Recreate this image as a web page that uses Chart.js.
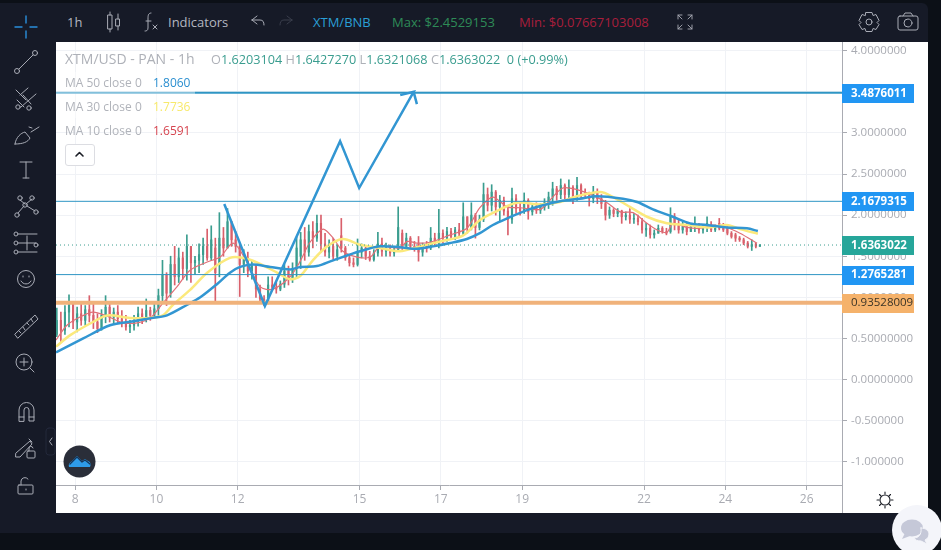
<!DOCTYPE html>
<html>
<head>
<meta charset="utf-8">
<title>XTM/USD</title>
<script src="https://cdn.jsdelivr.net/npm/chart.js@4"></script>
<style>
  html, body { margin: 0; padding: 0; width: 941px; height: 550px; overflow: hidden; background: #0c1017; font-family: "Open Sans", sans-serif; }
  #panel { position: absolute; left: 0; top: 3px; width: 928px; height: 530px; background: #161a27; border-radius: 0 6px 6px 0; }
  #wrap { position: absolute; left: 56px; top: 42px; width: 872px; height: 471px; background: #fff; }
  canvas { display: block; }
  .t { position: absolute; white-space: nowrap; line-height: 16px; }
  .bar { font-size: 13px; top: 14px; }
  #icons { position: absolute; left: 0; top: 0; z-index: 3; pointer-events: none; }
  .ma { color: #b0b3ba; font-size: 12px; z-index: 2; }
  #veil { position: absolute; left: 56px; top: 72px; width: 139px; height: 46px; background: rgba(255,255,255,.4); z-index: 1; }
  #collapse { position: absolute; left: 65px; top: 144px; width: 28px; height: 20px; border: 1px solid #dcdde2; border-radius: 3px; background: #fff; z-index: 2; }
</style>
</head>
<body>
<div id="panel"></div>
<div id="wrap"><canvas id="priceChart" width="872" height="471"></canvas></div>

<!-- thanh trên cùng -->
<div class="t bar" style="left:67px;color:#b4b7c0">1h</div>
<div class="t bar" style="left:168px;color:#b4b7c0">Indicators</div>
<div class="t bar" style="left:313px;color:#2a9fd6">XTM/BNB</div>
<div class="t bar" style="left:392px;color:#2e8b57">Max: $2.4529153</div>
<div class="t bar" style="left:519px;color:#a81e3c">Min: $0.07667103008</div>

<!-- chú thích trong biểu đồ -->
<div id="veil"></div>
<div class="t" style="left:65px;top:51px;font-size:14px;color:#aeb1b8;z-index:2">XTM/USD - PAN - 1h</div>
<div class="t" style="left:211px;top:51px;font-size:12.7px;color:#3a9d8f;z-index:2"><span style="color:#aeb1b8">O</span>1.6203104 <span style="color:#aeb1b8">H</span>1.6427270 <span style="color:#aeb1b8">L</span>1.6321068 <span style="color:#aeb1b8">C</span>1.6363022 &nbsp;0 (+0.99%)</div>
<div class="t ma" style="left:65px;top:75px">MA 50 close 0</div>
<div class="t ma" style="left:153px;top:75px;color:#2b8fd0">1.8060</div>
<div class="t ma" style="left:65px;top:99px">MA 30 close 0</div>
<div class="t ma" style="left:153px;top:99px;color:#f7e96b">1.7736</div>
<div class="t ma" style="left:65px;top:123px">MA 10 close 0</div>
<div class="t ma" style="left:153px;top:123px;color:#d6444f">1.6591</div>
<div id="collapse"></div>

<svg id="icons" width="941" height="550" fill="none" stroke="#a9acb6" stroke-width="1" stroke-linecap="round" stroke-linejoin="round">
  <!-- công cụ bên trái -->
  <path d="M26 16v7M26 31v7M15 27h7M30 27h7" stroke="#2a8fdc" stroke-width="1.4"/>
  <g><circle cx="35" cy="53" r="2.5"/><circle cx="17" cy="71" r="2.5"/><path d="M19 69l14-14"/></g>
  <g><path d="M16 90l10 10M21 107l15-13M28 88l-8 7"/><circle cx="18" cy="107" r="2.2"/><circle cx="29" cy="108" r="2.2"/><path d="M17 100l7 7M23 95l8 9"/></g>
  <g><path d="M15 144c1-7 6-11 10-12l5 6c-2 4-7 6-15 6zM31 132l8-5M32 128l-3-1"/></g>
  <g><path d="M20 162h12M26 162v16M23 178h6"/></g>
  <g><circle cx="20" cy="198" r="2.2"/><circle cx="32" cy="198" r="2.2"/><circle cx="25" cy="205" r="2.2"/><circle cx="17" cy="215" r="2.2"/><circle cx="36" cy="212" r="2.2"/><path d="M20 200l5 4M26 204l6-5M18 213l6-7M27 206l8 5M21 200v0"/></g>
  <g><path d="M19 234h18M19 243h17M19 252h18M27 236v14"/><circle cx="16" cy="234" r="2"/><circle cx="16" cy="243" r="2"/><circle cx="16" cy="252" r="2"/><circle cx="36" cy="245" r="2"/></g>
  <g><circle cx="26" cy="279" r="8.5"/><path d="M21 281c2 4 8 4 10 0M23 276v1M29 276v1"/></g>
  <g><path d="M15 334l20-19 3 4-20 19zM19 331l2 2M23 327l2 3M27 323l2 2M31 319l2 3"/></g>
  <g><circle cx="24" cy="362" r="8"/><path d="M20 362h8M24 358v8M30 368l4 4"/></g>
  <g><path d="M19 421v-11a7 7 0 0 1 15 0v11h-5v-11a2.5 2.5 0 0 0-5 0v11zM19 417h5M29 417h5"/></g>
  <g><path d="M16 453l14-12 2 3 -12 13h-4zM29 439l3 3"/><rect x="27" y="451" width="8" height="7" rx="1"/><path d="M29 451v-2a2 2 0 0 1 4-1"/></g>
  <g><rect x="18" y="485" width="15" height="9" rx="1"/><path d="M21 485v-4a4 4 0 0 1 7-2M26 489v1"/></g>
  <rect x="46" y="428" width="9" height="27" rx="3" stroke="#23283a"/>
  <path d="M52 438l-2.5 3.5 2.5 3.5"/>
  <!-- biểu tượng thanh trên -->
  <g><rect x="108" y="15" width="4" height="14"/><path d="M110 12v3M110 29v3"/><rect x="116" y="19" width="3.5" height="7"/><path d="M118 14v5M118 26v4"/></g>
  <g><path d="M151 13c-3 0-3 3-3 6v9c0 3-2 3-3 3M146 21h5M153 25l4 4M157 25l-4 4"/></g>
  <path d="M252 20l5-4M252 20l5 4M252 20h8c3 0 4 2 4 5"/>
  <path d="M292 20l-5-4M292 20l-5 4M292 20h-8c-3 0-4 2-4 5" stroke="#3a3e4c"/>
  <path d="M678 19v-4h4M682 19l-4-4M692 19v-4h-4M688 19l4-4M678 25v4h4M682 25l-4 4M692 25v4h-4M688 25l4 4" stroke-width=".9"/>
  <g><circle cx="869" cy="22" r="3"/><path d="M866 13h6l1 3 3-1 3 6-2 2 2 2-3 5-3-1-1 3h-6l-1-3-3 1-3-5 2-2-2-2 3-6 3 1z" transform="translate(0 -0.5)"/></g>
  <g><rect x="898" y="16" width="20" height="14" rx="2"/><circle cx="908" cy="23" r="4"/><path d="M903 16l2-3h6l2 3"/></g>
  <!-- logo -->
  <circle cx="79.5" cy="461.5" r="16" fill="#2a2e39" stroke="none"/>
  <path d="M69 467c-1-4 2-5 3-6l5-5 5 5 3-2 3 2c3 1 3 4 2 6z" fill="#2e9be8" stroke="none"/>
  <path d="M70 464l7-7 5 5 3-2 5 4" stroke="#15365a" stroke-width="1.3"/>
  <!-- mũi tên thu gọn -->
  <path d="M76 156l3.5-3.5 3.5 3.5" stroke="#1b1e26" stroke-width="1.6"/>
  <!-- nút đổi giao diện sáng tối -->
  <g stroke="#1b1e26" stroke-width="1.1"><circle cx="885" cy="500" r="5"/><path d="M885 492v2M885 506v2M877 500h2M891 500h2M879.500 494.500l1.500 1.500M889 504l1.500 1.500M879.500 505.500l1.500-1.500M889 496l1.500-1.500"/></g>
  <!-- bong bóng trò chuyện -->
  <circle cx="917" cy="530" r="25" fill="#f4f5fa" stroke="none"/>
  <ellipse cx="912" cy="528" rx="11" ry="8.500" fill="#c5c8d8" stroke="none"/>
  <path d="M905 533l-3 6 8-3z" fill="#c5c8d8" stroke="none"/>
  <path d="M921 528c5 0 8 3 8 6s-2 5-4 6l2 4-6-3c-4 0-6-1-7-3 4 0 8-3 7-10z" fill="#c5c8d8" stroke="#f4f5fa"/>
</svg>

<script>
// Nến 1h, mỗi nến cách nhau một khoảng cố định trên trục ngày
const firstCandleDay = 7.55;
const candleStep = 0.1;

const opens = [
    .55,.72,.60,.82,.95,.70,.80,.72,.85,.78,
    .70,.62,.78,.88,.76,.82,.74,.70,.64,.66,
    .72,.80,.74,.84,.78,.86,1.02,1.28,1.05,1.40,
    1.25,1.48,1.35,1.62,1.42,1.45,1.52,1.62,1.48,1.60,
    1.40,1.72,1.60,1.92,1.70,1.62,1.40,1.48,1.32,1.38,
    1.10,.98,.94,1.15,1.12,1.10,1.16,1.32,1.22,1.35,
    1.50,1.70,1.55,1.80,1.72,1.90,1.65,1.55,1.62,1.50,
    1.75,1.60,1.48,1.42,1.40,1.55,1.60,1.50,1.46,1.54,
    1.65,1.56,1.60,1.54,1.58,1.78,1.62,1.72,1.62,1.65,
    1.55,1.62,1.60,1.72,1.66,1.78,1.72,1.80,1.74,1.82,
    1.78,1.98,1.85,2.00,1.85,1.95,2.25,2.12,2.28,2.10,
    2.18,2.05,1.95,2.20,2.08,2.05,2.18,2.04,2.10,2.06,
    2.10,2.15,2.22,2.32,2.25,2.36,2.25,2.34,2.22,2.36,
    2.26,2.24,2.20,2.28,2.20,2.14,2.00,2.06,2.02,2.05,
    1.98,2.00,1.95,1.96,1.92,1.82,1.84,1.76,1.78,1.84,
    1.80,1.80,1.98,1.88,1.82,1.86,1.80,1.86,1.88,1.82,
    1.85,1.88,1.82,1.90,1.84,1.84,1.78,1.76,1.72,1.70,
    1.66,1.62,1.65,1.6203
];
const highs = [
    .87,.82,.90,1.03,.95,.88,.92,.90,1.02,.92,
    .80,.85,1.02,.93,.87,.90,.84,.78,.72,.78,
    .88,.86,.98,.88,.92,1.10,1.45,1.30,1.50,1.62,
    1.60,1.55,1.76,1.60,1.50,1.65,1.72,1.83,1.87,1.72,
    2.03,1.85,2.08,1.92,1.80,1.65,1.58,1.55,1.45,1.40,
    1.15,1.02,1.25,1.25,1.18,1.20,1.40,1.38,1.42,1.73,
    1.79,1.85,1.88,1.92,2.00,2.00,1.78,1.70,1.72,1.64,
    1.96,1.62,1.52,1.48,1.71,1.65,1.62,1.56,1.58,1.79,
    1.72,1.66,1.64,1.62,2.10,1.82,1.78,1.74,1.68,1.74,
    1.66,1.68,1.85,1.78,2.07,1.82,1.85,1.84,1.85,1.90,
    2.15,1.98,2.15,2.02,2.00,2.39,2.33,2.37,2.30,2.24,
    2.22,2.12,2.33,2.25,2.15,2.27,2.20,2.12,2.15,2.14,
    2.20,2.28,2.40,2.35,2.44,2.38,2.43,2.36,2.46,2.38,
    2.32,2.28,2.35,2.32,2.25,2.18,2.10,2.08,2.08,2.06,
    2.04,2.08,2.02,2.00,1.96,1.90,1.88,1.82,1.88,1.86,
    1.84,2.09,2.02,1.94,1.92,1.90,1.90,1.98,1.90,1.88,
    1.98,1.92,1.88,1.96,1.90,1.86,1.80,1.78,1.74,1.72,
    1.68,1.70,1.66,1.6427
];
const lows = [
    .52,.45,.55,.64,.62,.58,.66,.66,.70,.62,
    .57,.60,.69,.70,.68,.68,.64,.60,.57,.60,
    .65,.68,.70,.72,.74,.78,.95,.90,1.00,1.15,
    1.18,1.22,1.21,1.18,1.28,1.30,1.40,1.45,1.45,.95,
    1.25,1.50,1.60,1.62,1.55,1.01,1.30,1.25,1.22,1.00,
    .93,.90,.92,1.08,1.05,1.08,1.12,1.15,1.18,1.25,
    1.35,1.45,1.50,1.60,1.68,1.55,1.50,1.48,1.46,1.45,
    1.55,1.45,1.38,1.37,1.38,1.48,1.46,1.44,1.44,1.50,
    1.50,1.50,1.50,1.50,1.56,1.58,1.60,1.58,1.56,1.44,
    1.50,1.55,1.58,1.62,1.60,1.66,1.68,1.70,1.70,1.74,
    1.76,1.78,1.82,1.72,1.82,1.92,2.05,2.05,2.00,1.92,
    2.00,1.76,1.90,2.02,2.00,2.02,1.95,2.00,2.02,2.02,
    2.06,2.08,2.12,2.18,2.20,2.20,2.20,2.14,2.18,2.20,
    2.20,2.11,2.15,2.14,2.08,1.94,1.96,1.98,1.98,1.90,
    1.94,1.90,1.90,1.88,1.78,1.74,1.72,1.72,1.78,1.78,
    1.76,1.78,1.82,1.78,1.78,1.76,1.80,1.80,1.78,1.78,
    1.80,1.80,1.80,1.82,1.80,1.76,1.72,1.68,1.68,1.64,
    1.60,1.57,1.60,1.6203
];
const closes = [
    .72,.60,.82,.95,.70,.80,.72,.85,.78,.70,
    .62,.78,.88,.76,.82,.74,.70,.64,.66,.72,
    .80,.74,.84,.78,.86,1.02,1.28,1.05,1.40,1.25,
    1.48,1.35,1.62,1.42,1.45,1.52,1.62,1.48,1.70,1.30,
    1.72,1.60,1.92,1.70,1.62,1.40,1.48,1.32,1.38,1.10,
    .98,.94,1.15,1.12,1.10,1.16,1.32,1.22,1.35,1.60,
    1.70,1.55,1.80,1.72,1.90,1.65,1.55,1.62,1.50,1.58,
    1.60,1.48,1.42,1.40,1.55,1.60,1.50,1.46,1.54,1.65,
    1.56,1.60,1.54,1.58,1.85,1.62,1.72,1.62,1.60,1.55,
    1.62,1.60,1.72,1.66,1.78,1.72,1.80,1.74,1.82,1.78,
    1.98,1.85,2.00,1.85,1.95,2.25,2.12,2.28,2.10,2.18,
    2.05,1.95,2.20,2.08,2.05,2.18,2.04,2.10,2.06,2.10,
    2.15,2.22,2.32,2.25,2.36,2.25,2.34,2.22,2.36,2.26,
    2.24,2.20,2.28,2.20,2.14,2.00,2.06,2.02,2.05,1.98,
    2.00,1.95,1.96,1.92,1.82,1.84,1.76,1.78,1.84,1.80,
    1.78,1.98,1.88,1.82,1.86,1.80,1.86,1.88,1.82,1.85,
    1.90,1.82,1.86,1.84,1.82,1.78,1.74,1.72,1.70,1.66,
    1.62,1.64,1.62,1.6363
];

// Đường MA 50
const ma50Days = [7.53,8.20,8.86,9.43,9.92,10.26,10.76,11.08,11.49,11.81,12.06,12.38,12.80,13.29,13.54,13.95,14.35,15.01,15.50,15.99,16.41,16.81,17.23,17.64,17.96,18.28,18.63,19.12,19.51,19.93,20.42,20.84,21.48,21.83,22.22,22.71,23.13,23.55,24.04,24.53,24.80];
const ma50Values = [.33,.50,.66,.71,.75,.78,.91,1.00,1.16,1.30,1.37,1.40,1.37,1.34,1.37,1.38,1.45,1.56,1.62,1.61,1.59,1.62,1.66,1.71,1.78,1.88,1.96,2.06,2.12,2.17,2.20,2.23,2.20,2.16,2.07,1.98,1.90,1.88,1.85,1.84,1.806];

// Đường MA 30
const ma30Days = [7.53,7.88,8.44,8.79,9.35,9.85,10.16,10.41,10.83,11.25,11.81,12.23,12.62,12.97,13.29,13.54,13.85,14.20,14.59,15.01,15.50,15.99,16.49,16.98,17.54,17.96,18.38,18.87,19.44,19.93,20.35,20.92,21.24,21.65,22.07,22.56,23.06,23.55,24.04,24.36,24.80];
const ma30Values = [.40,.54,.70,.78,.75,.75,.78,.91,1.09,1.30,1.48,1.47,1.39,1.30,1.22,1.26,1.45,1.62,1.71,1.64,1.60,1.56,1.62,1.68,1.75,1.94,2.05,2.15,2.13,2.16,2.23,2.28,2.22,2.10,1.98,1.90,1.88,1.85,1.88,1.83,1.7736];

// Đường MA 10
const ma10Days = [7.53,7.80,8.12,8.44,8.79,9.18,9.53,9.85,10.16,10.51,10.83,11.25,11.57,11.89,12.23,12.55,12.87,13.29,13.54,13.78,14.10,14.35,14.59,14.94,15.26,15.50,15.99,16.17,16.41,16.73,17.23,17.64,17.96,18.28,18.63,18.95,19.44,19.68,20.00,20.35,20.74,21.09,21.41,21.73,22.07,22.32,22.56,22.71,23.06,23.38,23.69,24.04,24.36,24.78];
const ma10Values = [.48,.66,.76,.82,.77,.69,.69,.75,.93,1.13,1.33,1.43,1.49,1.66,1.43,1.13,1.10,1.25,1.44,1.67,1.83,1.72,1.56,1.49,1.49,1.62,1.60,1.68,1.66,1.67,1.76,1.84,2.09,2.22,2.10,2.09,2.07,2.18,2.33,2.31,2.24,2.15,2.04,2.03,1.90,1.82,1.79,1.90,1.85,1.84,1.88,1.85,1.78,1.6591];

// Đường vẽ tay zigzag và mũi tên ở cuối
const drawingDays = [11.67,12.67,14.52,14.99,16.33,16.00,16.33,16.41];
const drawingValues = [2.135,.894,2.90,2.33,3.50,3.46,3.50,3.35];

// Các mức giá ngang và nhãn của chúng
const levelValues = [3.4876011, 2.1679315, 1.6363022, 1.2765281, 0.93528009];
const levelLabels = ['3.4876011', '2.1679315', '1.6363022', '1.2765281', '0.93528009'];

// Trục
const dayTicks = [8, 10, 12, 15, 17, 19, 22, 24, 26];
const priceTicks = [-1, -0.5, 0, 0.5, 1, 1.5, 2, 2.5, 3, 3.5, 4];
const priceTickLabels = ['-1.000000', '-0.500000', '0.00000000', '0.50000000', '1.0000000', '1.5000000', '2.0000000', '2.5000000', '3.0000000', '3.5000000', '4.0000000'];

const UP = '#3a9d8f';
const DOWN = '#d9606b';
const BLUE = '#3296d2';
const LEVEL_BLUE = '#2f96c4';
const AXIS = '#a9abb2';
const GRID = '#f0f2f6';
const FONT = '"Open Sans", sans-serif';

const xMin = 7.53, xMax = 26.87;

const candleDay = i => firstCandleDay + i * candleStep;
const candleColors = opens.map((o, i) => closes[i] >= o ? UP : DOWN);

function toPoints(days, values) {
    return days.map((d, i) => ({ x: d, y: values[i] }));
}
function levelLine(value) {
    return [{ x: xMin, y: value }, { x: xMax, y: value }];
}
function lineSet(data, color, width, order, extra) {
    return Object.assign({
        type: 'line', data: data, borderColor: color, borderWidth: width,
        pointRadius: 0, tension: 0, order: order, fill: false
    }, extra || {});
}

// Nhãn giá bên phải và đường ngăn dưới trục giá
const levelTagPlugin = {
    id: 'levelTags',
    afterDraw(chart) {
        const { ctx, chartArea, scales } = chart;
        const tagColors = ['#2196f3', '#2196f3', '#26a69a', '#2196f3', '#f5b26b'];
        ctx.save();
        ctx.strokeStyle = AXIS;
        ctx.beginPath();
        ctx.moveTo(chartArea.right + 0.5, chartArea.bottom);
        ctx.lineTo(chartArea.right + 0.5, chart.height);
        ctx.stroke();
        ctx.textBaseline = 'middle';
        levelValues.forEach((v, i) => {
            const y = scales.y.getPixelForValue(v);
            ctx.fillStyle = tagColors[i];
            ctx.fillRect(chartArea.right, Math.round(y) - 9, 72, 19);
            ctx.font = (i === 4 ? '' : 'bold ') + '11.5px ' + FONT;
            ctx.fillStyle = i === 4 ? '#3a3326' : '#fff';
            ctx.fillText(levelLabels[i], chartArea.right + 9, y + 0.5);
        });
        ctx.restore();
    }
};

const ctx = document.getElementById('priceChart').getContext('2d');
const priceChart = new Chart(ctx, {
    type: 'bar',
    data: {
        datasets: [
            lineSet(toPoints(drawingDays, drawingValues), BLUE, 2.5, 1),
            lineSet(levelLine(levelValues[0]), LEVEL_BLUE, 2, 2),
            lineSet(levelLine(levelValues[1]), LEVEL_BLUE, 1, 2),
            lineSet(levelLine(levelValues[2]), '#3a9d8f', 1, 2, { borderDash: [1, 3] }),
            lineSet(levelLine(levelValues[3]), LEVEL_BLUE, 1, 2),
            lineSet(levelLine(levelValues[4]), '#f0b27a', 4, 2),
            lineSet(toPoints(ma50Days, ma50Values), BLUE, 2.5, 3, { tension: 0.3 }),
            lineSet(toPoints(ma30Days, ma30Values), '#fbe97c', 2.5, 4, { tension: 0.3 }),
            lineSet(toPoints(ma10Days, ma10Values), '#e07078', 1.2, 5, { tension: 0.3 }),
            {
                // thân nến
                data: opens.map((o, i) => ({ x: candleDay(i), y: [o, closes[i]] })),
                backgroundColor: candleColors,
                barThickness: 1.5,
                grouped: false,
                order: 6
            },
            {
                // bóng nến
                data: lows.map((l, i) => ({ x: candleDay(i), y: [l, highs[i]] })),
                backgroundColor: candleColors,
                barThickness: 1,
                grouped: false,
                order: 7
            }
        ]
    },
    options: {
        responsive: false,
        animation: false,
        devicePixelRatio: 1,
        layout: { padding: 0 },
        events: [],
        plugins: { legend: { display: false }, tooltip: { enabled: false } },
        scales: {
            x: {
                type: 'linear',
                min: xMin,
                max: xMax,
                offset: false,
                afterBuildTicks: scale => { scale.ticks = dayTicks.map(v => ({ value: v })); },
                afterFit: scale => { scale.height = 28; scale.paddingLeft = 0; scale.paddingRight = 0; },
                grid: { color: GRID, tickColor: AXIS, tickLength: 5, offset: false },
                border: { color: AXIS },
                ticks: { autoSkip: false, maxRotation: 0, color: AXIS, padding: 2, font: { family: FONT, size: 12 }, callback: v => String(v) }
            },
            y: {
                type: 'linear',
                position: 'right',
                min: -1.283,
                max: 4.106,
                afterBuildTicks: scale => { scale.ticks = priceTicks.map(v => ({ value: v })); },
                afterFit: scale => { scale.width = 86; scale.paddingTop = 0; scale.paddingBottom = 0; },
                grid: { color: GRID, tickColor: AXIS, tickLength: 5 },
                border: { color: AXIS },
                ticks: { autoSkip: false, color: AXIS, padding: 4, font: { family: FONT, size: 11.5 }, callback: (v, i) => priceTickLabels[i] }
            }
        }
    },
    plugins: [levelTagPlugin]
});
</script>
</body>
</html>
